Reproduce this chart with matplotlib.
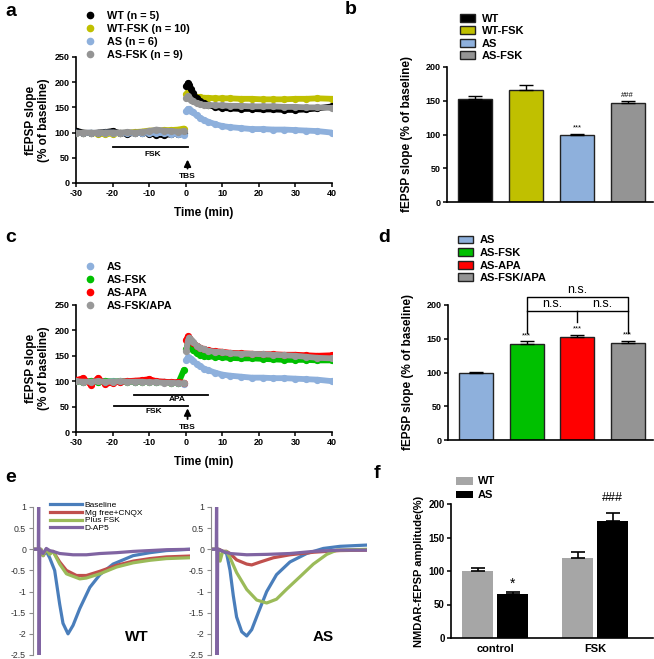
"""
Six-panel LTP / NMDAR figure (a-f), rebuilt with matplotlib.
Writes out.png (654 x 659 px).
"""

import matplotlib
matplotlib.use("Agg")
import matplotlib.pyplot as plt
from matplotlib.lines import Line2D
from matplotlib.patches import Patch

plt.rcParams["font.family"] = ["Liberation Sans", "DejaVu Sans"]
plt.rcParams["axes.unicode_minus"] = False

# ── Data: time courses (panels a, c) ──────────────────────────────────────────

t_pre = [-30, -28, -26, -24, -22, -20, -18, -16, -14, -12, -10, -8, -6, -4, -2, -0.5]
t_post = [0.2, 0.6, 1, 1.5, 2, 3, 4, 5, 6, 8, 10, 12, 15, 18, 21, 24, 27, 30, 33, 36, 40]

wt_pre      = [104, 100, 99, 100, 101, 103, 99, 98, 99, 100, 98, 96, 95, 97, 98, 99]
wt_fsk_pre  = [100, 99, 99, 98, 97, 98, 99, 100, 101, 102, 104, 104, 105, 105, 106, 108]
as_pre      = [100, 99, 100, 99, 100, 100, 99, 100, 99, 100, 100, 99, 99, 98, 97, 95]
as_fsk_pre  = [99, 100, 100, 99, 100, 100, 100, 101, 100, 101, 103, 106, 104, 103, 102, 103]

wt_post     = [192, 198, 194, 186, 178, 168, 162, 158, 155, 151, 149, 148, 147, 147, 146, 146, 145, 145, 146, 148, 152]
wt_fsk_post = [176, 180, 177, 174, 172, 171, 170, 169, 169, 168, 168, 168, 167, 167, 166, 166, 166, 167, 167, 168, 167]
as_post     = [142, 147, 146, 143, 140, 134, 129, 125, 122, 117, 113, 111, 109, 107, 107, 106, 106, 105, 104, 103, 100]
as_fsk_post = [168, 172, 168, 165, 162, 158, 156, 155, 155, 154, 154, 153, 153, 152, 152, 152, 151, 151, 150, 150, 149]

c_fsk_pre      = [100, 99, 100, 99, 100, 99, 100, 99, 99, 98, 99, 98, 98, 97, 97, 122]
c_apa_pre      = [102, 106, 93, 106, 95, 97, 99, 100, 101, 102, 104, 100, 99, 98, 98, 97]
c_fsk_apa_pre  = [100, 99, 99, 100, 99, 99, 100, 99, 99, 99, 98, 98, 97, 97, 96, 96]

c_fsk_post     = [163, 176, 172, 166, 161, 155, 152, 150, 149, 148, 147, 146, 145, 145, 144, 143, 142, 142, 142, 141, 141]
c_apa_post     = [182, 188, 185, 180, 176, 170, 166, 163, 161, 159, 158, 156, 155, 154, 153, 153, 152, 152, 151, 150, 151]
c_fsk_apa_post = [160, 180, 186, 182, 177, 170, 166, 163, 160, 158, 157, 155, 154, 154, 153, 152, 151, 150, 148, 146, 145]

# ── Data: bar panels (b, d, f) ────────────────────────────────────────────────

b_groups = ["WT", "WT-FSK", "AS", "AS-FSK"]
b_mean   = [153, 166, 100, 146]
b_sem    = [4, 7, 1, 4]
b_marks  = ["", "", "***", "###"]

d_groups = ["AS", "AS-FSK", "AS-APA", "AS-FSK/APA"]
d_mean   = [100, 142, 152, 143]
d_sem    = [1, 4, 4, 4]
d_marks  = ["", "***", "***", "***"]

f_conditions = ["control", "FSK"]
f_wt      = [100, 119]
f_wt_sem  = [5, 10]
f_as      = [65, 174]
f_as_sem  = [4, 12]

# ── Data: NMDAR-fEPSP traces (panel e), x in arbitrary sample units ───────────

e_labels = ["Baseline", "Mg free+CNQX", "Plus FSK", "D-AP5"]

wt_base_x  = [0, 5, 6.4, 8.5, 10.6, 13.8, 17, 19.1, 22.3, 25.5, 29.8, 36.2, 42.6, 51, 63.8, 74.5, 85, 100]
wt_base_y  = [0, 0, -0.15, -0.05, -0.2, -0.5, -1.3, -1.75, -2.0, -1.8, -1.4, -0.9, -0.6, -0.35, -0.15, -0.08, -0.03, 0.0]
wt_mg_x    = [0, 5, 6.4, 8.5, 10.6, 12.8, 17, 21.3, 27.7, 34, 42.6, 53.2, 63.8, 74.5, 85, 100]
wt_mg_y    = [0, 0, -0.15, 0, -0.1, -0.05, -0.3, -0.5, -0.62, -0.62, -0.52, -0.38, -0.28, -0.22, -0.18, -0.16]
wt_fsk_x   = [0, 5, 6.4, 8.5, 10.6, 12.8, 17, 21.3, 29.8, 34, 42.6, 53.2, 63.8, 74.5, 85, 100]
wt_fsk_y   = [0, 0, -0.15, 0, -0.12, -0.05, -0.35, -0.58, -0.7, -0.68, -0.58, -0.42, -0.32, -0.26, -0.22, -0.2]
wt_ap5_x   = [0, 3.4, 3.6, 3.9, 4.3, 6.4, 8.5, 10.6, 12.8, 17, 25.5, 34, 42.6, 53.2, 63.8, 74.5, 85, 100]
wt_ap5_y   = [0, 0, 1.3, -2.8, 0, -0.1, 0.02, -0.03, -0.05, -0.1, -0.13, -0.13, -0.1, -0.08, -0.05, -0.03, -0.01, 0.0]

as_base_x  = [0, 5, 7.7, 10, 12.2, 14.3, 16.4, 19.7, 22.9, 26.1, 30.3, 35.7, 42, 50.6, 61.3, 72, 82.7, 100]
as_base_y  = [0, 0, -0.05, -0.1, -0.5, -1.1, -1.6, -1.95, -2.05, -1.9, -1.5, -1.0, -0.6, -0.3, -0.1, 0.02, 0.07, 0.1]
as_mg_x    = [0, 5, 7.7, 10, 12.2, 16.4, 22.9, 26.1, 31.6, 40, 50.6, 65.6, 82.7, 100]
as_mg_y    = [0, 0, -0.05, -0.05, -0.1, -0.25, -0.35, -0.37, -0.3, -0.2, -0.13, -0.07, -0.03, -0.02]
as_fsk_x   = [0, 4.5, 5.8, 7.5, 10, 12.2, 16.4, 22.9, 29.3, 35.7, 42, 48.3, 57, 65.6, 74.2, 80.6, 100]
as_fsk_y   = [0, 0, -0.28, -0.05, -0.05, -0.2, -0.55, -0.95, -1.2, -1.27, -1.18, -0.95, -0.65, -0.35, -0.12, -0.02, 0.0]
as_ap5_x   = [0, 3.4, 3.6, 3.9, 4.3, 7.7, 12.2, 22.9, 35.7, 50.6, 65.6, 82.7, 100]
as_ap5_y   = [0, 0, 1.3, -2.8, 0, -0.05, -0.1, -0.13, -0.12, -0.1, -0.05, -0.02, -0.02]

e_ticks = [1, 0.5, 0, -0.5, -1, -1.5, -2, -2.5]
e_tick_labels = ["1", "0.5", "0", "-0.5", "-1", "-1.5", "-2", "-2.5"]

# ── Style ─────────────────────────────────────────────────────────────────────

W, H = 654, 659
BOLD = "bold"
C_WT, C_WTFSK, C_AS, C_ASFSK = "#000000", "#c0c000", "#8eb0dc", "#949494"
C_GREEN, C_RED = "#00c000", "#ff0000"
E_COLORS = ["#4a7ebb", "#c0504d", "#9bbb59", "#8064a2"]


def px_axes(fig, left, top, right, bottom):
    """Place axes by pixel box (image coords, y down)."""
    return fig.add_axes([left / W, 1 - bottom / H, (right - left) / W, (bottom - top) / H])


def prism_style(ax, labelsize=6.5):
    for s in ("top", "right"):
        ax.spines[s].set_visible(False)
    for s in ("left", "bottom"):
        ax.spines[s].set_linewidth(1.2)
    ax.tick_params(width=1.1, length=3, labelsize=labelsize, pad=1.5)
    for lab in ax.get_xticklabels() + ax.get_yticklabels():
        lab.set_fontweight(BOLD)


def plot_trace(ax, t, v, color, z):
    ax.plot(t, v, "-", color=color, lw=4.2, marker="o", ms=4.2,
            solid_capstyle="round", zorder=z)


def legend_at(ax, fig, handles, labels, left, top, size, **kw):
    return ax.legend(handles, labels, loc="upper left",
                     bbox_to_anchor=(left / W, 1 - top / H),
                     bbox_transform=fig.transFigure, frameon=False,
                     borderaxespad=0, borderpad=0,
                     prop=dict(size=size, weight=kw.pop("weight", BOLD)), **kw)


fig = plt.figure(figsize=(W / 100, H / 100), dpi=100)

# ── Panel a ───────────────────────────────────────────────────────────────────

ax = px_axes(fig, 76, 57, 332, 183)
for (pre, post, col, z) in [
    (wt_pre, wt_post, C_WT, 2),
    (wt_fsk_pre, wt_fsk_post, C_WTFSK, 1),
    (as_pre, as_post, C_AS, 3),
    (as_fsk_pre, as_fsk_post, C_ASFSK, 4),
]:
    plot_trace(ax, t_pre, pre, col, z)
    plot_trace(ax, t_post, post, col, z)
ax.set_xlim(-30, 40)
ax.set_ylim(0, 250)
ax.set_xticks([-30, -20, -10, 0, 10, 20, 30, 40])
ax.set_yticks([0, 50, 100, 150, 200, 250])
ax.plot([-20, 0.5], [71, 71], color="k", lw=1.3)
ax.text(-9, 57, "FSK", ha="center", va="center", fontsize=6, fontweight=BOLD)
ax.annotate("", xy=(0.5, 52), xytext=(0.5, 23),
            arrowprops=dict(arrowstyle="-|>", color="k", lw=1.3, mutation_scale=10))
ax.text(0.5, 12, "TBS", ha="center", va="center", fontsize=6, fontweight=BOLD)
ax.set_xlabel("Time (min)", fontsize=8.5, fontweight=BOLD, labelpad=6)
ax.set_ylabel("fEPSP slope\n(% of baseline)", fontsize=8.5, fontweight=BOLD, labelpad=3)
prism_style(ax)
h = [Line2D([], [], marker="o", ls="", ms=4.5, color=c) for c in (C_WT, C_WTFSK, C_AS, C_ASFSK)]
legend_at(ax, fig, h, ["WT (n = 5)", "WT-FSK (n = 10)", "AS (n = 6)", "AS-FSK (n = 9)"],
          85, 11, 7.8, handlelength=1.0, handletextpad=1.0, labelspacing=0.28)

# ── Panel b ───────────────────────────────────────────────────────────────────

ax = px_axes(fig, 447, 67, 653, 202)
b_cols = [C_WT, C_WTFSK, C_AS, C_ASFSK]
xb = range(len(b_groups))
ax.bar(xb, b_mean, width=0.67, color=b_cols, edgecolor="#222222", lw=1)
ax.errorbar(xb, b_mean, yerr=[[0] * 4, b_sem], fmt="none", ecolor="k",
            elinewidth=1, capsize=5, capthick=1)
for i, m in enumerate(b_marks):
    if m:
        ax.text(i, b_mean[i] + b_sem[i] + 3, m, ha="center", va="bottom", fontsize=5.5)
ax.set_xlim(-0.56, 3.5)
ax.set_ylim(0, 200)
ax.set_xticks([])
ax.set_yticks([0, 50, 100, 150, 200])
ax.set_ylabel("fEPSP slope (% of baseline)", fontsize=8.5, fontweight=BOLD, labelpad=9)
prism_style(ax)
h = [Patch(facecolor=c, edgecolor="#222222", lw=1) for c in b_cols]
legend_at(ax, fig, h, b_groups, 460, 13.5, 8, handlelength=1.35, handleheight=0.7,
          handletextpad=0.6, labelspacing=0.23)

# ── Panel c ───────────────────────────────────────────────────────────────────

ax = px_axes(fig, 76, 305, 332, 432)
for (pre, post, col, z) in [
    (as_pre, as_post, C_AS, 1),
    (c_fsk_pre, c_fsk_post, C_GREEN, 2),
    (c_apa_pre, c_apa_post, C_RED, 3),
    (c_fsk_apa_pre, c_fsk_apa_post, "#999999", 4),
]:
    plot_trace(ax, t_pre, pre, col, z)
    plot_trace(ax, t_post, post, col, z)
ax.set_xlim(-30, 40)
ax.set_ylim(0, 250)
ax.set_xticks([-30, -20, -10, 0, 10, 20, 30, 40])
ax.set_yticks([0, 50, 100, 150, 200, 250])
ax.plot([-14.2, 6.2], [73, 73], color="k", lw=1.3)
ax.text(-2.3, 63, "APA", ha="center", va="center", fontsize=6, fontweight=BOLD)
ax.plot([-19.5, 0.5], [52, 52], color="k", lw=1.3)
ax.text(-8.6, 40, "FSK", ha="center", va="center", fontsize=6, fontweight=BOLD)
ax.annotate("", xy=(0.5, 52), xytext=(0.5, 20),
            arrowprops=dict(arrowstyle="-|>", color="k", lw=1.3, mutation_scale=10))
ax.text(0.5, 9, "TBS", ha="center", va="center", fontsize=6, fontweight=BOLD)
ax.set_xlabel("Time (min)", fontsize=8.5, fontweight=BOLD, labelpad=6)
ax.set_ylabel("fEPSP slope\n(% of baseline)", fontsize=8.5, fontweight=BOLD, labelpad=3)
prism_style(ax)
h = [Line2D([], [], marker="o", ls="", ms=4.5, color=c) for c in (C_AS, C_GREEN, C_RED, "#999999")]
legend_at(ax, fig, h, d_groups, 85, 262, 7.8, handlelength=1.0, handletextpad=1.0,
          labelspacing=0.28)

# ── Panel d ───────────────────────────────────────────────────────────────────

ax = px_axes(fig, 448, 305, 653, 440)
d_cols = [C_AS, C_GREEN, C_RED, C_ASFSK]
xd = range(len(d_groups))
ax.bar(xd, d_mean, width=0.67, color=d_cols, edgecolor="#222222", lw=1)
ax.errorbar(xd, d_mean, yerr=[[0] * 4, d_sem], fmt="none", ecolor="k",
            elinewidth=1, capsize=5, capthick=1)
for i, m in enumerate(d_marks):
    if m:
        ax.text(i, d_mean[i] + d_sem[i] + 3, m, ha="center", va="bottom", fontsize=5.5)
# n.s. brackets
br = dict(color="k", lw=1, clip_on=False)
ax.plot([1, 1, 3, 3], [158, 212, 212, 158], **br)
ax.plot([1, 3], [191, 191], **br)
ax.plot([2, 2], [191, 175], **br)
ax.text(2, 213, "n.s.", ha="center", va="bottom", fontsize=9)
ax.text(1.5, 192, "n.s.", ha="center", va="bottom", fontsize=9)
ax.text(2.5, 192, "n.s.", ha="center", va="bottom", fontsize=9)
ax.set_xlim(-0.56, 3.5)
ax.set_ylim(0, 200)
ax.set_xticks([])
ax.set_yticks([0, 50, 100, 150, 200])
ax.set_ylabel("fEPSP slope (% of baseline)", fontsize=8.5, fontweight=BOLD, labelpad=9)
prism_style(ax)
h = [Patch(facecolor=c, edgecolor="#222222", lw=1) for c in d_cols]
legend_at(ax, fig, h, d_groups, 458, 235.5, 8, handlelength=1.35, handleheight=0.7,
          handletextpad=0.6, labelspacing=0.23)

# ── Panel e ───────────────────────────────────────────────────────────────────

for left, right, traces, tag in [
    (33, 190, [(wt_base_x, wt_base_y), (wt_mg_x, wt_mg_y), (wt_fsk_x, wt_fsk_y),
               (wt_ap5_x, wt_ap5_y)], "WT"),
    (211, 367, [(as_base_x, as_base_y), (as_mg_x, as_mg_y), (as_fsk_x, as_fsk_y),
                (as_ap5_x, as_ap5_y)], "AS"),
]:
    ax = px_axes(fig, left, 507, right, 655)
    lines = []
    for (x, y), col, lab in zip(traces, E_COLORS, e_labels):
        ln, = ax.plot(x, y, color=col, lw=2.3, label=lab)
        lines.append(ln)
    ax.set_xlim(0, 100)
    ax.set_ylim(-2.5, 1)
    ax.set_xticks([])
    ax.set_yticks(e_ticks)
    ax.set_yticklabels(e_tick_labels)
    for s in ("top", "right", "bottom"):
        ax.spines[s].set_visible(False)
    ax.spines["left"].set_color("#8c8c8c")
    ax.spines["left"].set_linewidth(0.8)
    ax.tick_params(axis="y", colors="#8c8c8c", labelcolor="#333333", length=3,
                   width=0.8, labelsize=6.3, pad=2)
    ax.text(0.66 if tag == "WT" else 0.72, 0.12, tag, transform=ax.transAxes,
            ha="center", va="center", fontsize=11, fontweight=BOLD)
    if tag == "WT":
        legend_at(ax, fig, lines, ["Baseline", "Mg free+CNQX", "Plus FSK", "D-AP5"],
                  50, 501, 6, weight="normal", handlelength=3.85, handletextpad=0.3,
                  labelspacing=0.0)

# ── Panel f ───────────────────────────────────────────────────────────────────

ax = px_axes(fig, 451, 504, 653, 638)
xf = range(len(f_conditions))
xw = [i - 0.175 for i in xf]
xa = [i + 0.175 for i in xf]
ax.bar(xw, f_wt, width=0.31, color="#a6a6a6")
ax.bar(xa, f_as, width=0.31, color="#000000")
ax.errorbar(xw, f_wt, yerr=[[0] * 2, f_wt_sem], fmt="none", ecolor="k",
            elinewidth=1.2, capsize=5, capthick=1.2)
ax.errorbar(xa, f_as, yerr=[[0] * 2, f_as_sem], fmt="none", ecolor="k",
            elinewidth=1.2, capsize=5, capthick=1.2)
ax.text(xa[0], f_as[0] + f_as_sem[0] + 2, "*", ha="center", va="bottom", fontsize=10)
ax.text(xa[1], 200, "###", ha="center", va="bottom", fontsize=9, clip_on=False)
ax.set_xlim(-0.44, 1.58)
ax.set_ylim(0, 200)
ax.set_xticks(list(xf))
ax.set_xticklabels(f_conditions)
ax.set_yticks([0, 50, 100, 150, 200])
ax.set_ylabel("NMDAR-fEPSP amplitude(%)", fontsize=8, fontweight=BOLD, labelpad=3)
prism_style(ax, labelsize=7)
ax.tick_params(axis="x", length=0, labelsize=8, pad=4)
h = [Patch(facecolor=c) for c in ("#a6a6a6", "#000000")]
legend_at(ax, fig, h, ["WT", "AS"], 456, 476.5, 8, handlelength=1.5, handleheight=0.7,
          handletextpad=0.45, labelspacing=0.35)

# ── Panel letters ─────────────────────────────────────────────────────────────

for letter, x, y in [("a", 5, 12), ("b", 345, 10), ("c", 5, 238),
                     ("d", 378, 237), ("e", 5, 478), ("f", 374, 473)]:
    fig.text(x / W, 1 - y / H, letter, ha="left", va="center", fontsize=14, fontweight=BOLD)

fig.savefig("out.png", dpi=100)
